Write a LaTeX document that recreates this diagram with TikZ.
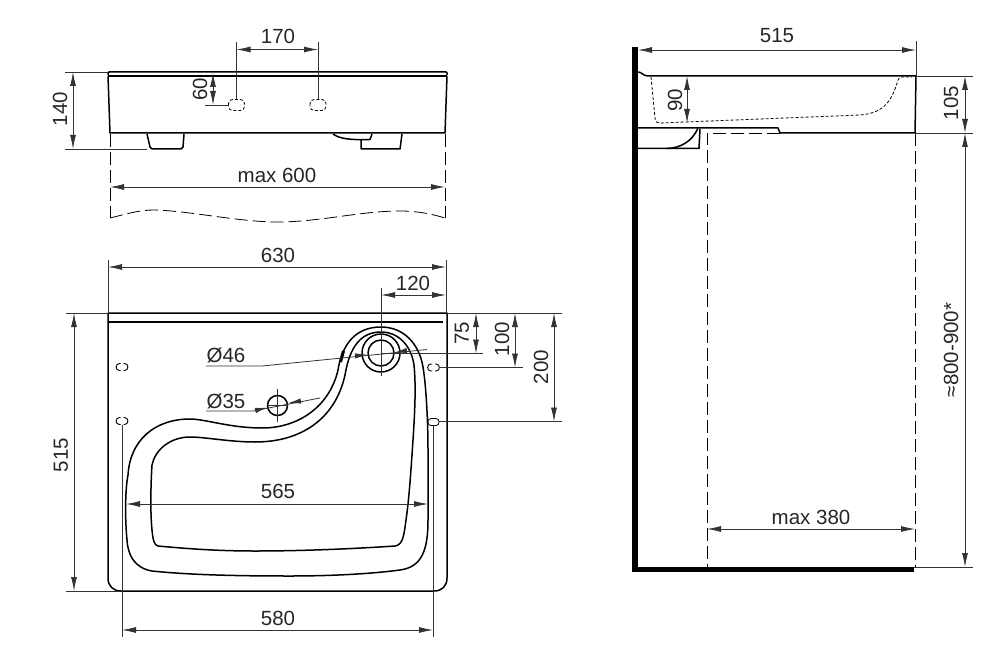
\documentclass[tikz,border=0pt]{standalone}
\usepackage{fontspec}
\setmainfont{Liberation Sans}
\usetikzlibrary{arrows.meta}
\tikzset{
  solid line/.style={draw=black, line width=1.5pt, line join=round},
  thin line/.style={draw=black!80, line width=0.8pt},
  hidden line/.style={draw=black, line width=0.8pt, dash pattern=on 13pt off 5pt},
  short dash/.style={draw=black, line width=0.8pt, dash pattern=on 3pt off 2pt},
  dim line/.style={draw=black!80, line width=0.8pt, {Latex[length=14pt,width=6pt]}-{Latex[length=14pt,width=6pt]}},
  dim tip/.style={draw=black!80, line width=1.5pt, -{Latex[length=13pt,width=5.5pt]}},
  dim text/.style={font=\fontsize{20.5}{20.5}\selectfont, inner sep=0pt, text=black!85},
  dim vert/.style={dim text, rotate=90}
}
\begin{document}
\begin{tikzpicture}[x=1pt,y=-1pt]
\useasboundingbox (0,0) rectangle (1000,655);
% front view
\draw [solid line] (108,75) -- (108,73) -- (109,72) -- (446,72) -- (447,73) -- (447,75);
\draw [solid line] (108,76) -- (447,76);
\draw [solid line] (108,76) -- (110,133) -- (445,133) -- (447,76);
\draw [solid line] (147,134) -- (150,147) -- (152,149) -- (181,149) -- (183,147) -- (184,134);
\draw [solid line] (402,134) -- (400,149) -- (361,149) -- (361,140);
\draw [solid line] (333,134) .. controls (340,139) and (350,140) .. (370,139.5) -- (372,134);
\draw [short dash, rounded corners=4pt] (228.5,99.5) rectangle (244.5,110.5);
\draw [short dash, rounded corners=4pt] (310,99.5) rectangle (326,110.5);
% front view dimensions
\coordinate (hole a) at (236.5,99.5);
\coordinate (hole b) at (318,99.5);
\draw [thin line] (236.5,42) -- (hole a);
\draw [thin line] (318,42) -- (hole b);
\draw [dim line] (236.5,49.5) -- (318,49.5);
\node [dim text] (lab170) at (278,36) {170};
\draw [thin line] (205,105) -- (228.5,105);
\draw [dim line] (213,73) -- (213,105);
\node [dim vert] (lab60) at (200,89) {60};
\draw [thin line] (65,72) -- (108,72);
\draw [thin line] (65,149) -- (147,149);
\draw [dim line] (73,72) -- (73,149);
\node [dim vert] (lab140) at (60,109) {140};
\draw [hidden line] (110,134) -- (110,218);
\draw [hidden line] (445,134) -- (445,218);
\draw [hidden line] (110,218) .. controls (130,213) and (140,210) .. (155,210) .. controls (190,211) and (240,222) .. (277,222) .. controls (320,222) and (360,211) .. (400,211) .. controls (420,211) and (435,215) .. (445,218);
\draw [dim line] (110,187) -- (445,187);
\node [dim text] (labmaxa) at (277,175) {max 600};
% plan view
\draw [solid line] (108,313) -- (447,313) -- (447,578) .. controls (447,586) and (442,591) .. (434,591) -- (121,591) .. controls (113,591) and (108,586) .. (108,578) -- cycle;
\draw [solid line] (108,322) -- (443,322);
% outer rim of the bowl
\draw [solid line] (381,327) .. controls (403,327) and (419,343) .. (423,367)
  .. controls (426,385) and (428,420) .. (428,450) -- (428,520)
  .. controls (428,550) and (422,567) .. (400,570)
  .. controls (370,574) and (330,576) .. (290,576)
  .. controls (240,576) and (190,575) .. (152,571)
  .. controls (135,568) and (128,556) .. (127,540)
  .. controls (125,520) and (125,490) .. (128,475)
  .. controls (130,440) and (155,419) .. (190,419)
  .. controls (205,419) and (230,428) .. (262,428)
  .. controls (300,428) and (330,405) .. (338,370)
  .. controls (342,345) and (355,327) .. (381,327) -- cycle;
% inner edge of the bowl
\draw [solid line] (381,332) .. controls (398,332) and (411,345) .. (414,365)
  .. controls (416,385) and (415,410) .. (413,440)
  .. controls (411,470) and (409,500) .. (406,520)
  .. controls (404,535) and (403,545) .. (395,546)
  .. controls (350,549) and (300,551) .. (255,551)
  .. controls (220,551) and (190,549) .. (158,546)
  .. controls (154,545) and (153,540) .. (152,530)
  .. controls (150,510) and (151,480) .. (152,465)
  .. controls (155,450) and (170,437) .. (190,437)
  .. controls (205,437) and (230,442) .. (255,442)
  .. controls (300,442) and (335,420) .. (345,375)
  .. controls (350,345) and (362,332) .. (381,332) -- cycle;
\draw [solid line] (381,353) circle [radius=13];
\draw [solid line] (381,353) circle [radius=19];
\draw [solid line] (277.5,405.5) circle [radius=10];
\draw [line width=3pt] (340.5,362) -- (343.5,351);
% small fixing holes, two halves each
\foreach \px/\py in {122/367,122/421,433.5/367.5} {
  \draw [line width=0.9pt] (\px-1.5,\py-3.5) -- (\px-2.5,\py-3.5) .. controls (\px-7,\py-3.5) and (\px-7,\py+3.5) .. (\px-2.5,\py+3.5) -- (\px-1.5,\py+3.5);
  \draw [line width=0.9pt] (\px+1.5,\py-3.5) -- (\px+2.5,\py-3.5) .. controls (\px+7,\py-3.5) and (\px+7,\py+3.5) .. (\px+2.5,\py+3.5) -- (\px+1.5,\py+3.5);
}
\draw [solid line, line width=0.8pt, rounded corners=3pt] (428,418.5) rectangle (439,425.5);
% plan view dimensions
\draw [thin line] (108,260) -- (108,313);
\draw [thin line] (446,260) -- (446,313);
\draw [dim line] (108,267) -- (446,267);
\node [dim text] (lab630) at (278,255) {630};
\draw [thin line] (381,288) -- (381,376);
\draw [dim line] (381,295) -- (446,295);
\node [dim text] (lab120) at (413,283) {120};
\draw [thin line] (447,313) -- (562,313);
\draw [thin line] (381,353.5) -- (483,353.5);
\draw [thin line] (439,367.5) -- (523,367.5);
\draw [thin line] (439,421.5) -- (562,421.5);
\draw [dim line] (476,313) -- (476,353.5);
\node [dim vert] (lab75) at (462,333) {75};
\draw [dim line] (515,313) -- (515,367.5);
\node [dim vert] (lab100) at (502,339) {100};
\draw [dim line] (554,313) -- (554,421.5);
\node [dim vert] (lab200) at (541,367) {200};
\draw [thin line] (66,313) -- (108,313);
\draw [thin line] (66,591) -- (121,591);
\draw [dim line] (74,313) -- (74,591);
\node [dim vert] (lab515a) at (61,455) {515};
\draw [thin line] (122,425) -- (122,637);
\draw [thin line] (433,425) -- (433,637);
\draw [dim line] (122,630) -- (433,630);
\node [dim text] (lab580) at (278,618) {580};
\draw [dim line] (126,504) -- (428,504);
\node [dim text] (lab565) at (278,491) {565};
\node [dim text] (lab46) at (226,355) {Ø46};
\node [dim text] (lab35) at (226,401) {Ø35};
\draw [thin line] (206,366) -- (262,366) -- (427,349.5);
\draw [dim tip] (355,356) -- (368,354.5);
\draw [dim tip] (407,350.5) -- (394,352.5);
\draw [thin line] (206,411) -- (253,411) -- (320,398);
\draw [dim tip] (255,410.5) -- (268,407.5);
\draw [dim tip] (301,401) -- (288,403);
\draw [thin line] (277.5,389) -- (277.5,422);
\draw [thin line] (267.5,405.5) -- (287.5,405.5);
% side view
\draw [black, line width=5.5pt] (635,47) -- (635,569.5) -- (914,569.5);
\draw [solid line] (638,72) .. controls (642,72) and (643,76) .. (648,76) -- (916,76) -- (915,133) -- (780,133) -- (778,128) -- (638,128);
\draw [solid line] (638,148.5) -- (699,148.5) -- (700,129);
\draw [solid line] (698,128) .. controls (692,142) and (680,148) .. (667,148.5);
\draw [short dash] (651,77) -- (655,118) .. controls (655,122) and (657,123) .. (660,123) -- (860,115) .. controls (885,113) and (892,100) .. (898,80) -- (900,77) -- (912,77);
\draw [hidden line] (915,133) -- (915,567);
\draw [hidden line] (780,133) -- (707,133) -- (707,567);
% side view dimensions
\draw [thin line] (916,41) -- (916,76);
\draw [dim line] (638,50) -- (916,50);
\node [dim text] (lab515b) at (777,36) {515};
\draw [dim line] (687,76) -- (687,123);
\node [dim vert] (lab90) at (675,100) {90};
\draw [thin line] (916,76) -- (973,76);
\draw [thin line] (915,133) -- (973,133);
\draw [thin line] (914,567) -- (973,567);
\draw [dim line] (965,76) -- (965,133);
\node [dim vert] (lab105) at (951,103) {105};
\draw [dim line] (965,133) -- (965,567);
\node [dim vert] (labhigh) at (951,350) {≈800-900*};
\draw [dim line] (707,529) -- (915,529);
\node [dim text] (labmaxb) at (811,517) {max 380};
\end{tikzpicture}
\end{document}
